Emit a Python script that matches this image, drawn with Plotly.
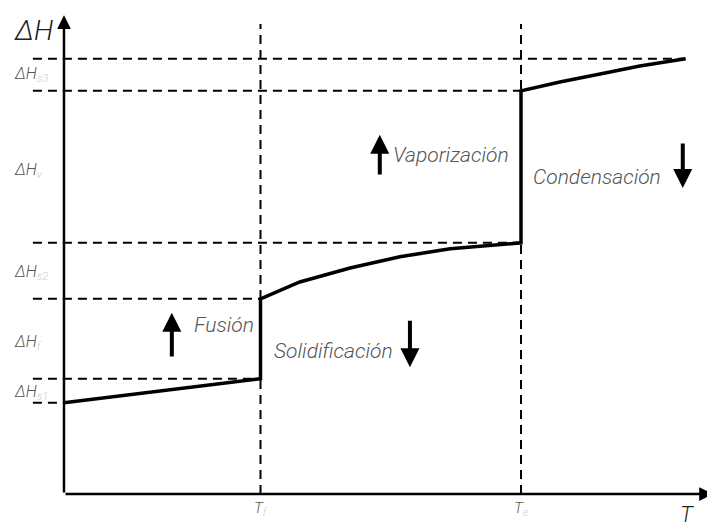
import plotly.graph_objects as go

# ─── DATA (arbitrary T / ΔH units) ───
T_F = 43.0      # fusion temperature
T_E = 100.0     # boiling temperature
T_END = 136.0

# enthalpy levels at the phase boundaries
H_LEVELS = [22.8, 28.8, 48.8, 62.8, 100.8, 108.8]

# heating curve pieces
solid_T = [0.0, 43.0]
solid_H = [22.8, 28.8]
liquid_T = [43.0, 47.3, 51.6, 62.6, 73.5, 84.5, 95.4, 100.0]
liquid_H = [48.8, 51.0, 53.0, 56.5, 59.3, 61.3, 62.5, 62.8]
gas_T = [100.0, 108.5, 117.3, 126.0, 136.0]
gas_H = [100.8, 103.0, 105.0, 107.0, 108.8]

H_LABELS = ["s3", "v", "s2", "f", "s1"]
H_LABEL_Y = [104.8, 81.0, 55.5, 38.0, 25.5]
T_TICKS = [T_F, T_E]
T_TICK_SUB = ["f", "e"]

# ─── STYLE ───
_INK = "#000000"
_LABEL = "#555555"
_SUB = "#cccccc"
_FONT = "Roboto, Liberation Sans, Arial, sans-serif"
X0 = -6.8  # left start of dashed guides

fig = go.Figure()

# heating curve: sensible segments + latent jumps
curve_T = solid_T + liquid_T + gas_T
curve_H = solid_H + liquid_H + gas_H
fig.add_trace(go.Scatter(x=curve_T, y=curve_H, mode="lines",
                         line=dict(color=_INK, width=3.5), hoverinfo="skip"))

dash = dict(color=_INK, width=2, dash="9px,6px")
# horizontal guides
guide_ends = [-1.5, T_F, T_F, T_E, T_E, T_END]
for h, xe in zip(H_LEVELS, guide_ends):
    fig.add_shape(type="line", x0=X0, x1=xe, y0=h, y1=h, line=dash)
# vertical guides at Tf, Te
for t in T_TICKS:
    fig.add_shape(type="line", x0=t, x1=t, y0=0, y1=117.5, line=dash)

# axes with arrows
ax_kw = dict(xref="x", yref="y", axref="x", ayref="y", showarrow=True, text="",
             arrowhead=2, arrowsize=1.1, arrowwidth=2.5, arrowcolor=_INK)
fig.add_annotation(x=0, y=119.7, ax=0, ay=0, **ax_kw)
fig.add_annotation(x=142.0, y=0, ax=0, ay=0, **ax_kw)

# axis titles
fig.add_annotation(x=-11.3, y=116.0, text="ΔH", showarrow=False, xanchor="left",
                   font=dict(size=28, color="#222", family=_FONT, style="italic", weight=300))
fig.add_annotation(x=134.3, y=-5.2, text="T", showarrow=False, xanchor="left",
                   font=dict(size=22, color="#222", family=_FONT, style="italic", weight=300))

# ΔH labels on the left
for sub, yv in zip(H_LABELS, H_LABEL_Y):
    fig.add_annotation(x=-11.3, y=yv, showarrow=False, xanchor="left",
                       text=f"ΔH<sub><span style='color:{_SUB}'>{sub}</span></sub>",
                       font=dict(size=16, color=_LABEL, family=_FONT, style="italic", weight=300))

# T tick labels
for t, sub in zip(T_TICKS, T_TICK_SUB):
    fig.add_annotation(x=t, y=-3.7, showarrow=False,
                       text=f"T<sub><span style='color:{_SUB}'>{sub}</span></sub>",
                       font=dict(size=15, color=_LABEL, family=_FONT, style="italic", weight=300))

# process labels with arrows
lab_font = dict(size=21, color=_LABEL, family=_FONT, style="italic", weight=300)
procs = [
    ("Vaporización", 71.6, 84.7, 69.1, 79.5, 89.8),
    ("Condensación", 102.2, 79.3, 135.4, 88.0, 76.5),
    ("Fusión", 28.0, 42.2, 23.6, 34.0, 45.3),
    ("Solidificación", 45.6, 35.7, 75.7, 43.7, 31.7),
]
arr_kw = dict(xref="x", yref="y", axref="x", ayref="y", showarrow=True, text="",
              arrowhead=2, arrowsize=0.95, arrowwidth=4, arrowcolor=_INK)
for txt, tx, ty, axx, y_from, y_to in procs:
    fig.add_annotation(x=tx, y=ty, text=txt, showarrow=False, xanchor="left", font=lab_font)
    fig.add_annotation(x=axx, y=y_to, ax=axx, ay=y_from, **arr_kw)

# page body has an 8px margin, so the figure is trimmed and the ranges shifted
fig.update_layout(
    width=707, height=519,
    paper_bgcolor="white", plot_bgcolor="white",
    margin=dict(l=0, r=0, t=0, b=0),
    showlegend=False,
    xaxis=dict(range=[-12.25, 142.45], visible=False, fixedrange=True),
    yaxis=dict(range=[-8.25, 121.5], visible=False, fixedrange=True),
)
fig.write_html("out.html")
